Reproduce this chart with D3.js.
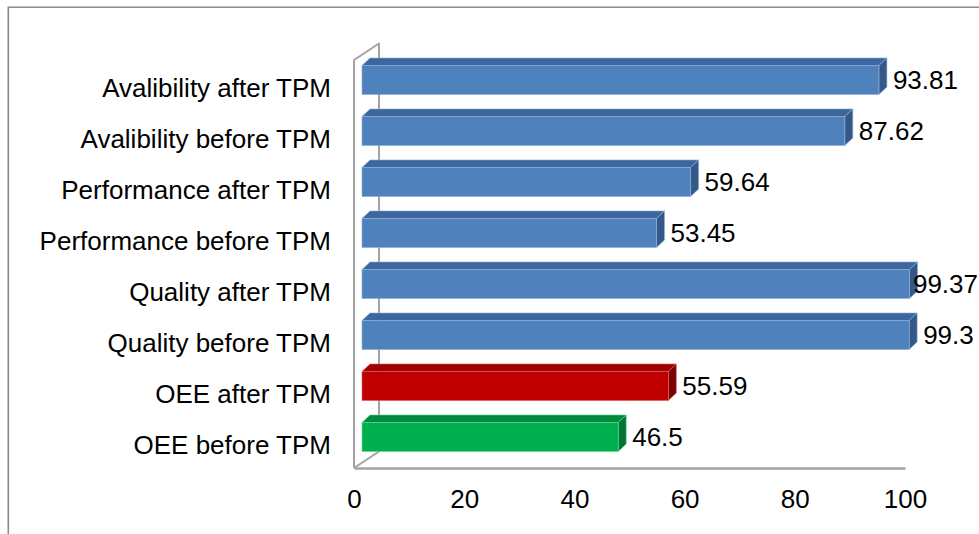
<!DOCTYPE html>
<html>
<head>
<meta charset="utf-8">
<script src="https://cdn.jsdelivr.net/npm/d3@7"></script>
<style>
  html, body { margin: 0; padding: 0; background: #fff; }
  svg { display: block; }
  text { font-family: "Liberation Sans", Arial, sans-serif; fill: #000; }
</style>
</head>
<body>
<script>
// Categories listed top to bottom as they appear on the axis
const categories = [
  "Avalibility after TPM",
  "Avalibility before TPM",
  "Performance after TPM",
  "Performance before TPM",
  "Quality after TPM",
  "Quality before TPM",
  "OEE after TPM",
  "OEE before TPM"
];
const values = [93.81, 87.62, 59.64, 53.45, 99.37, 99.3, 55.59, 46.5];
const barGroups = ["blue", "blue", "blue", "blue", "blue", "blue", "red", "green"];
const xTicks = [0, 20, 40, 60, 80, 100];

// Face shading for each bar colour: front, top, side
const palette = {
  blue:  { front: "#4F81BD", top: "#3D679C", side: "#345888", edge: "#8FB0DA" },
  red:   { front: "#C00000", top: "#A00000", side: "#7E0000", edge: "#E06060" },
  green: { front: "#00B050", top: "#008A3E", side: "#007433", edge: "#66D596" }
};

const W = 979, H = 534;
const svg = d3.select("body").append("svg").attr("width", W).attr("height", H);

// Chart frame
svg.append("path")
  .attr("d", `M8.3,${H + 2} L8.3,7.3 L${W + 2},7.3`)
  .attr("fill", "none").attr("stroke", "#8a8a8a").attr("stroke-width", 1.6);

// Front plane geometry of the oblique 3D plot area
const plotLeft = 354, plotRight = 905, plotTop = 60, plotBottom = 468;
const wallDx = 25, wallDy = -16.5;      // depth of the walls
const barInsetDx = 8, barInsetDy = -5.5; // bars sit a little behind the front plane
const barDepthDx = 8, barDepthDy = -7.5; // visible thickness of each bar

const x = d3.scaleLinear().domain([0, 100]).range([plotLeft, plotRight]);
const y = d3.scaleBand().domain(categories).range([plotTop, plotBottom]).paddingInner(0.43).paddingOuter(0.215);
const yCat = d3.scaleBand().domain(categories).range([plotTop, plotBottom]);

const wallColor = "#a3a3a3";

// Left wall (front edge, top edge, back edge) and floor diagonal
svg.append("path")
  .attr("d", `M${plotLeft},${plotBottom} L${plotLeft},${plotTop} L${plotLeft + wallDx},${plotTop + wallDy} L${plotLeft + wallDx},${plotBottom + wallDy} L${plotLeft},${plotBottom}`)
  .attr("fill", "none").attr("stroke", wallColor).attr("stroke-width", 2)
  .attr("stroke-linejoin", "round");

// Bars
const bars = svg.append("g").selectAll("g.bar").data(categories).join("g").attr("class", "bar");

bars.each(function (c, i) {
  const g = d3.select(this);
  const col = palette[barGroups[i]];
  const x0 = x(0) + barInsetDx;
  const x1 = x(values[i]) + barInsetDx;
  const y0 = y(c) + barInsetDy;
  const h = y.bandwidth();
  // top face
  g.append("path")
    .attr("d", `M${x0},${y0} L${x0 + barDepthDx},${y0 + barDepthDy} L${x1 + barDepthDx},${y0 + barDepthDy} L${x1},${y0} Z`)
    .attr("fill", col.top).attr("stroke", col.edge).attr("stroke-width", 0.6);
  // side face
  g.append("path")
    .attr("d", `M${x1},${y0} L${x1 + barDepthDx},${y0 + barDepthDy} L${x1 + barDepthDx},${y0 + h + barDepthDy} L${x1},${y0 + h} Z`)
    .attr("fill", col.side).attr("stroke", col.edge).attr("stroke-width", 0.6);
  // front face
  g.append("rect")
    .attr("x", x0).attr("y", y0).attr("width", x1 - x0).attr("height", h)
    .attr("fill", col.front).attr("stroke", col.edge).attr("stroke-width", 0.6);
});

// Value labels
const fontSize = 26;
const valueLabels = svg.append("g").selectAll("text").data(categories).join("text")
  .attr("font-size", fontSize)
  .attr("y", c => y(c) + barInsetDy + y.bandwidth() / 2 + fontSize * 0.36)
  .text((c, i) => String(values[i]));
valueLabels.each(function (c, i) {
  const t = d3.select(this);
  const w = this.getComputedTextLength();
  const ideal = x(values[i]) + barInsetDx + barDepthDx + 6;
  t.attr("x", Math.min(ideal, W - w - 1));
});

// Category labels
svg.append("g").selectAll("text").data(categories).join("text")
  .attr("font-size", fontSize)
  .attr("text-anchor", "end")
  .attr("x", 331)
  .attr("y", c => yCat(c) + yCat.bandwidth() / 2 + 2.5 + fontSize * 0.36)
  .text(c => c);

// Value axis along the front edge of the floor
const axis = d3.axisBottom(x).tickValues(xTicks).tickSize(0).tickSizeOuter(0).tickPadding(22);
const ax = svg.append("g").attr("transform", `translate(0,${plotBottom})`).call(axis);
ax.select(".domain").attr("stroke", wallColor).attr("stroke-width", 2.4);
ax.selectAll(".tick text")
  .attr("font-size", fontSize)
  .attr("font-family", "\"Liberation Sans\", Arial, sans-serif")
  .attr("fill", "#000");
</script>
</body>
</html>
